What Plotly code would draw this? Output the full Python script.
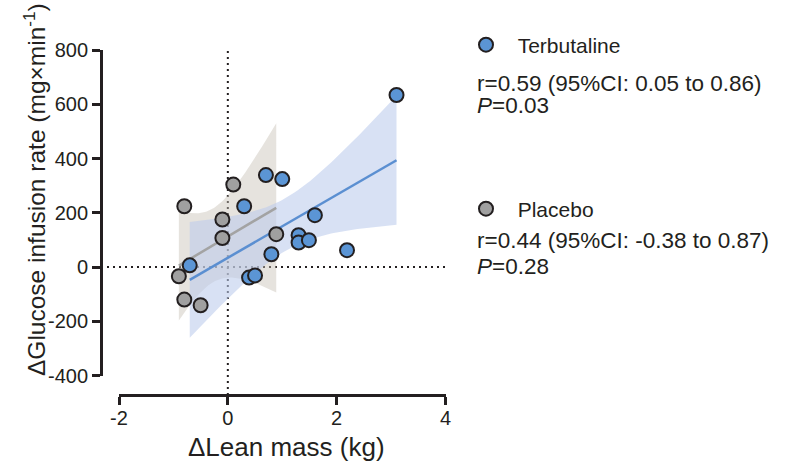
import numpy as np
import plotly.graph_objects as go

# ---- data ----
terb_x = [3.10, 0.70, 1.00, 0.30, 1.60, 1.30, 1.30, 1.49, 0.80, 2.19, -0.70, 0.39, 0.50]
terb_y = [634, 339, 324, 224, 191, 117, 90, 99, 47, 62, 6, -39, -31]
plac_x = [0.10, -0.80, -0.10, -0.10, 0.89, -0.90, -0.80, -0.50]
plac_y = [304, 224, 175, 107, 121, -34, -120, -141]

terb_stats = ["r=0.59 (95%CI: 0.05 to 0.86)", "<i>P</i>=0.03"]
plac_stats = ["r=0.44 (95%CI: -0.38 to 0.87)", "<i>P</i>=0.28"]

x_ticks = [-2, 0, 2, 4]
x_tick_labels = ["-2", "0", "2", "4"]
y_ticks = [-400, -200, 0, 200, 400, 600, 800]
y_tick_labels = ["-400", "-200", "0", "200", "400", "600", "800"]

# two-sided 95% t quantiles for n-2 degrees of freedom
T975 = {11: 2.201, 6: 2.447}

FONT = "Liberation Sans, Arial, Helvetica, sans-serif"
TXT = "#231f20"
W, H = 792, 463


def fit_band(xs, ys):
    x = np.asarray(xs, float)
    y = np.asarray(ys, float)
    n = len(x)
    xb, yb = x.mean(), y.mean()
    sxx = ((x - xb) ** 2).sum()
    b = ((x - xb) * (y - yb)).sum() / sxx
    a = yb - b * xb
    s = np.sqrt(((y - (a + b * x)) ** 2).sum() / (n - 2))
    g = np.linspace(x.min(), x.max(), 80)
    fit = a + b * g
    hw = T975[n - 2] * s * np.sqrt(1.0 / n + (g - xb) ** 2 / sxx)
    return g, fit, fit - hw, fit + hw


fig = go.Figure()

groups = [
    ("Placebo", plac_x, plac_y, "#a3a3a3", "#a0a0a0", "rgba(200,192,182,0.45)", "legend2"),
    ("Terbutaline", terb_x, terb_y, "#5b8fd1", "#5b95d5", "rgba(188,204,236,0.58)", "legend"),
]

# bands
for name, xs, ys, lc, mc, bc, lg in groups:
    g, fit, lo, hi = fit_band(xs, ys)
    fig.add_trace(go.Scatter(
        x=np.concatenate([g, g[::-1]]), y=np.concatenate([hi, lo[::-1]]),
        fill="toself", fillcolor=bc, line=dict(width=0), mode="lines",
        hoverinfo="skip", showlegend=False))
# fit lines
for name, xs, ys, lc, mc, bc, lg in groups:
    g, fit, lo, hi = fit_band(xs, ys)
    fig.add_trace(go.Scatter(x=g, y=fit, mode="lines",
                             line=dict(color=lc, width=2.5),
                             hoverinfo="skip", showlegend=False))
# points
for name, xs, ys, lc, mc, bc, lg in groups:
    fig.add_trace(go.Scatter(
        x=xs, y=ys, mode="markers", name="\u00a0\u00a0" + name, legend=lg,
        marker=dict(size=14, color=mc, line=dict(color="#231f20", width=2)),
        cliponaxis=False))

# pixel geometry
xd = [119 / W, 445.5 / W]
yd = [1 - 375.5 / H, 1 - 50 / H]
x_axis_pos = 1 - 395 / H
y_axis_pos = 101 / W

axis_common = dict(showline=True, linecolor="#231f20", linewidth=2.8,
                   ticks="outside", ticklen=8, tickwidth=2.8, tickcolor="#231f20",
                   showgrid=False, zeroline=False, automargin=False,
                   tickfont=dict(family=FONT, size=20, color=TXT))

fig.update_layout(
    width=W, height=H, margin=dict(l=0, r=0, t=0, b=0),
    paper_bgcolor="white", plot_bgcolor="rgba(0,0,0,0)",
    font=dict(family=FONT, color=TXT),
    xaxis=dict(domain=xd, range=[-2, 4], anchor="free", position=x_axis_pos,
               tickvals=x_ticks, ticktext=x_tick_labels, ticklabelstandoff=-4,
               **axis_common),
    yaxis=dict(domain=yd, range=[-400, 800], anchor="free", position=y_axis_pos,
               tickvals=y_ticks, ticktext=y_tick_labels,
               **axis_common),
    legend=dict(x=466 / W, y=1 - 45 / H, xanchor="left", yanchor="middle",
                bgcolor="rgba(0,0,0,0)", font=dict(family=FONT, size=21, color=TXT)),
    legend2=dict(x=466 / W, y=1 - 209 / H, xanchor="left", yanchor="middle",
                 bgcolor="rgba(0,0,0,0)", font=dict(family=FONT, size=21, color=TXT)),
)

# axis titles
fig.add_annotation(text="ΔLean mass (kg)", xref="paper", yref="paper",
                   x=286 / W, y=1 - 447 / H, xanchor="center", yanchor="middle",
                   showarrow=False, font=dict(family=FONT, size=26, color=TXT))
fig.add_annotation(text="ΔGlucose infusion rate (mg×min<sup>-1</sup>)", xref="paper", yref="paper",
                   x=34 / W, y=1 - 190 / H, xanchor="center", yanchor="middle", textangle=-90,
                   showarrow=False, font=dict(family=FONT, size=24.5, color=TXT))

# dotted zero reference lines
fig.add_shape(type="line", xref="paper", yref="y", x0=y_axis_pos, x1=xd[1], y0=0, y1=0,
              line=dict(color="#231f20", width=2, dash="2px,4px"), layer="below")
fig.add_shape(type="line", xref="x", yref="paper", x0=0, x1=0, y0=x_axis_pos, y1=yd[1],
              line=dict(color="#231f20", width=2, dash="2px,4px"), layer="below")

# statistics text
for lines, yc in ((terb_stats, (83, 105)), (plac_stats, (240, 266))):
    for t, ypx in zip(lines, yc):
        fig.add_annotation(text=t, xref="paper", yref="paper", x=475 / W, y=1 - ypx / H,
                           xanchor="left", yanchor="middle", showarrow=False,
                           font=dict(family=FONT, size=22.5, color=TXT))

fig.write_html("out.html", config={"displayModeBar": False},
               post_script="document.body.style.margin='0';document.body.style.padding='0';")
